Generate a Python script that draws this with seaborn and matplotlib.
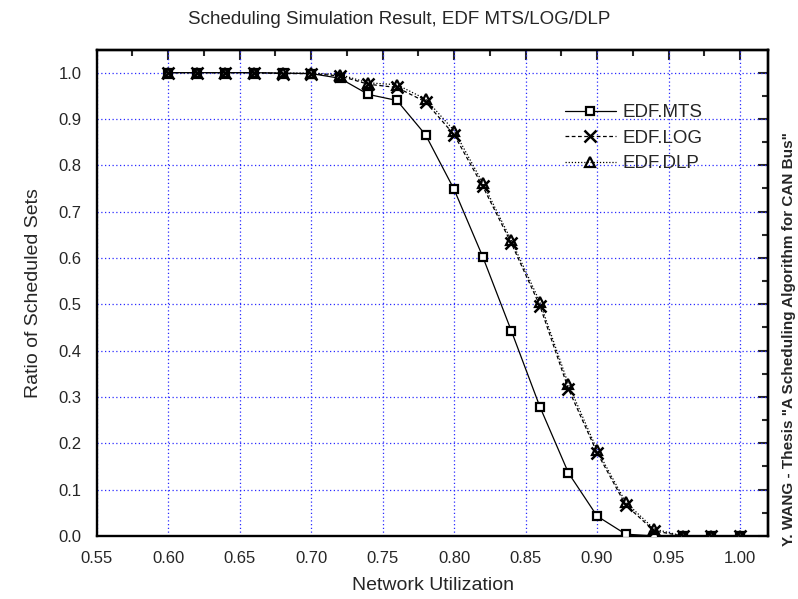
import matplotlib
matplotlib.use("Agg")
import matplotlib.pyplot as plt
from matplotlib.ticker import MultipleLocator, FormatStrFormatter
import seaborn as sns
import pandas as pd

# ---- data ----
utilization = [0.60, 0.62, 0.64, 0.66, 0.68, 0.70, 0.72, 0.74, 0.76, 0.78,
               0.80, 0.82, 0.84, 0.86, 0.88, 0.90, 0.92, 0.94, 0.96, 0.98, 1.00]
edf_mts = [1.0, 1.0, 1.0, 1.0, 0.999, 0.998, 0.988, 0.953, 0.940, 0.866,
           0.748, 0.603, 0.443, 0.279, 0.136, 0.043, 0.004, 0.0, 0.0, 0.0, 0.0]
edf_log = [1.0, 1.0, 1.0, 1.0, 0.998, 0.998, 0.993, 0.975, 0.968, 0.937,
           0.866, 0.755, 0.632, 0.497, 0.317, 0.180, 0.067, 0.011, 0.0, 0.0, 0.0]
edf_dlp = [1.0, 1.0, 1.0, 1.0, 0.999, 0.999, 0.996, 0.978, 0.974, 0.943,
           0.875, 0.762, 0.638, 0.505, 0.327, 0.186, 0.073, 0.015, 0.0, 0.0, 0.0]
series_names = ["EDF.MTS", "EDF.LOG", "EDF.DLP"]
x_ticks = [0.55, 0.60, 0.65, 0.70, 0.75, 0.80, 0.85, 0.90, 0.95, 1.00]
y_ticks = [0.0, 0.1, 0.2, 0.3, 0.4, 0.5, 0.6, 0.7, 0.8, 0.9, 1.0]

title = "Scheduling Simulation Result, EDF MTS/LOG/DLP"
x_label = "Network Utilization"
y_label = "Ratio of Scheduled Sets"
side_note = 'Y. WANG - Thesis "A Scheduling Algorithm for CAN Bus"'

sns.set_style("white")
plt.rcParams["font.family"] = ["Liberation Sans", "DejaVu Sans"]

fig = plt.figure(figsize=(7.98, 5.99), dpi=100)
ax = fig.add_axes([0.1212, 0.1052, 0.8416, 0.8114])

df = pd.DataFrame({"u": utilization, "mts": edf_mts, "log": edf_log, "dlp": edf_dlp})

sns.lineplot(data=df, x="u", y="mts", ax=ax, color="black", linewidth=0.9,
             linestyle="-", marker="s", markersize=6, markerfacecolor="white",
             markeredgecolor="black", markeredgewidth=1.6, label=series_names[0],
             zorder=3)
sns.lineplot(data=df, x="u", y="log", ax=ax, color="black", linewidth=0.9,
             linestyle=(0, (3, 2)), marker="x", markersize=8,
             markeredgecolor="black", markeredgewidth=1.8, label=series_names[1],
             zorder=4)
sns.lineplot(data=df, x="u", y="dlp", ax=ax, color="black", linewidth=0.9,
             linestyle=(0, (1, 1.5)), marker="^", markersize=7.5,
             markerfacecolor="none", markeredgecolor="black",
             markeredgewidth=1.6, label=series_names[2], zorder=5)

ax.set_xlim(0.55, 1.0198)
ax.set_ylim(0.0, 1.049)
ax.set_xticks(x_ticks)
ax.set_yticks(y_ticks)
ax.xaxis.set_major_formatter(FormatStrFormatter("%.2f"))
ax.yaxis.set_major_formatter(FormatStrFormatter("%.1f"))
ax.xaxis.set_minor_locator(MultipleLocator(0.025))
ax.yaxis.set_minor_locator(MultipleLocator(0.05))
ax.tick_params(axis="both", which="major", direction="out", length=7,
               width=1.5, labelsize=12, color="black", pad=4)
ax.tick_params(axis="both", which="minor", direction="out", length=4,
               width=1.5, color="black")

# inward ticks on top and right
sec_x = ax.secondary_xaxis("top")
sec_x.set_xticks(x_ticks)
sec_x.xaxis.set_minor_locator(MultipleLocator(0.025))
sec_x.tick_params(which="major", direction="in", length=7, width=1.5, labeltop=False)
sec_x.tick_params(which="minor", direction="in", length=4, width=1.5)
sec_x.set_xticklabels([])
sec_y = ax.secondary_yaxis("right")
sec_y.set_yticks(y_ticks)
sec_y.yaxis.set_minor_locator(MultipleLocator(0.05))
sec_y.tick_params(which="major", direction="in", length=7, width=1.5, labelright=False)
sec_y.tick_params(which="minor", direction="in", length=4, width=1.5)
sec_y.set_yticklabels([])
for s in list(ax.spines.values()) + [sec_x.spines["top"], sec_y.spines["right"]]:
    s.set_linewidth(1.7)
    s.set_color("black")

ax.grid(True, which="major", color="#2a2aff", linestyle=(0, (1, 2)), linewidth=0.9)
ax.set_axisbelow(True)

ax.set_xlabel(x_label, fontsize=14, labelpad=8)
ax.set_ylabel(y_label, fontsize=14, labelpad=12)
fig.text(0.5, 1 - 20 / 599, title, ha="center", va="center", fontsize=13.5)

ax.legend(loc="upper left", bbox_to_anchor=(565 / 798, 1 - 104 / 599),
          bbox_transform=fig.transFigure, frameon=False, fontsize=13.5,
          handlelength=2.7, handletextpad=0.35, labelspacing=0.45,
          borderpad=0, borderaxespad=0)

fig.text(789 / 798, 1 - 339 / 599, side_note, rotation=90, ha="center",
         va="center", fontsize=11, fontweight="bold")

fig.savefig("out.png", dpi=100)
